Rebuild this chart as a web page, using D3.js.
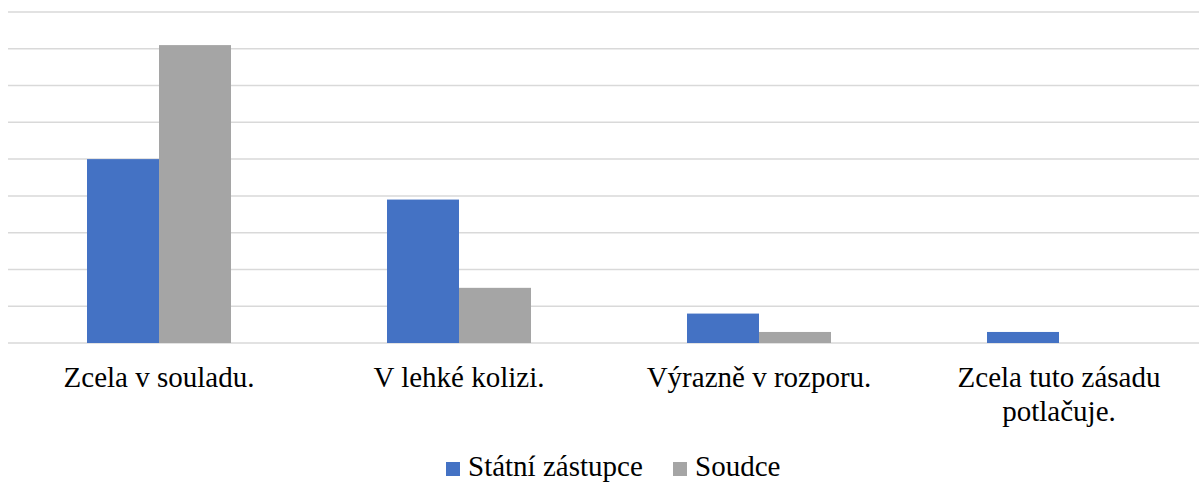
<!DOCTYPE html>
<html>
<head>
<meta charset="utf-8">
<script src="https://cdn.jsdelivr.net/npm/d3@7"></script>
</head>
<body style="margin:0">
<svg id="chart"></svg>
<script>
const categories = [
    ["Zcela v souladu."],
    ["V lehké kolizi."],
    ["Výrazně v rozporu."],
    ["Zcela tuto zásadu", "potlačuje."]
];
const seriesNames = ["Státní zástupce", "Soudce"];
const statniZastupce = [50, 39, 8, 3];
const soudce = [81, 15, 3, 0];
const gridTicks = [0, 10, 20, 30, 40, 50, 60, 70, 80, 90];

const width = 1199;
const height = 483;
const serif = '"Liberation Serif", "Times New Roman", serif';
const colors = { "Státní zástupce": "#4472C4", "Soudce": "#A5A5A5" };

const svg = d3.select('#chart')
              .attr('width', width)
              .attr('height', height);

const catKeys = categories.map(c => c.join(' '));

const x0 = d3.scaleBand()
             .domain(catKeys)
             .range([9, 1209])
             .paddingInner(0.52)
             .paddingOuter(0.26);

const x1 = d3.scaleBand()
             .domain(seriesNames)
             .range([0, x0.bandwidth()]);

const y = d3.scaleLinear()
            .domain([0, 90])
            .range([343, 12]);

// gridlines
svg.append('g')
   .selectAll('line')
   .data(gridTicks)
   .enter()
   .append('line')
   .attr('x1', 8)
   .attr('x2', width)
   .attr('y1', d => y(d))
   .attr('y2', d => y(d))
   .attr('stroke', '#D9D9D9')
   .attr('stroke-width', 1.5);

const rows = catKeys.map((k, i) => ({
    key: k,
    values: [
        { name: seriesNames[0], value: statniZastupce[i] },
        { name: seriesNames[1], value: soudce[i] }
    ]
}));

const groups = svg.append('g')
    .selectAll('g')
    .data(rows)
    .enter()
    .append('g')
    .attr('transform', d => `translate(${x0(d.key)},0)`);

groups.selectAll('rect')
    .data(d => d.values.filter(v => v.value > 0))
    .enter()
    .append('rect')
    .attr('x', d => x1(d.name))
    .attr('y', d => y(d.value))
    .attr('width', x1.bandwidth())
    .attr('height', d => y(0) - y(d.value))
    .attr('fill', d => colors[d.name]);

// category labels, one text per line
categories.forEach((lines, i) => {
    lines.forEach((line, j) => {
        svg.append('text')
           .attr('x', x0(catKeys[i]) + x0.bandwidth() / 2)
           .attr('y', 387 + j * 34)
           .attr('text-anchor', 'middle')
           .style('font-family', serif, 'important')
           .style('font-size', '29px')
           .style('fill', '#000')
           .text(line);
    });
});

// legend
const legendX = [446, 673];
seriesNames.forEach((name, i) => {
    svg.append('rect')
       .attr('x', legendX[i])
       .attr('y', 462)
       .attr('width', 14)
       .attr('height', 14)
       .attr('fill', colors[name]);

    svg.append('text')
       .attr('x', legendX[i] + 22)
       .attr('y', 476)
       .style('font-family', serif, 'important')
       .style('font-size', '29px')
       .style('fill', '#000')
       .text(name);
});
</script>
</body>
</html>
